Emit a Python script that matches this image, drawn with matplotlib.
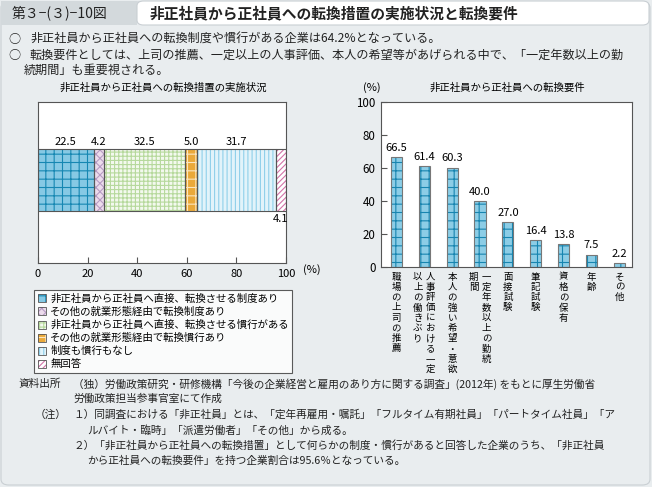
import matplotlib
matplotlib.use("Agg")
import matplotlib.pyplot as plt
from matplotlib.patches import Rectangle, FancyBboxPatch, Patch

plt.rcParams['font.family'] = ['Noto Sans CJK JP', 'DejaVu Sans']
plt.rcParams['hatch.linewidth'] = 0.8

# ---------------- data ----------------
left_labels = ["非正社員から正社員へ直接、転換させる制度あり",
               "その他の就業形態経由で転換制度あり",
               "非正社員から正社員へ直接、転換させる慣行がある",
               "その他の就業形態経由で転換慣行あり",
               "制度も慣行もなし",
               "無回答"]
left_values = [22.5, 4.2, 32.5, 5.0, 31.7, 4.1]
left_xticks = [0, 20, 40, 60, 80, 100]

right_categories = [["職場の上司の推薦"],
                    ["人事評価における一定", "以上の働きぶり"],
                    ["本人の強い希望・意欲"],
                    ["一定年数以上の勤続", "期間"],
                    ["面接試験"],
                    ["筆記試験"],
                    ["資格の保有"],
                    ["年齢"],
                    ["その他"]]
right_values = [66.5, 61.4, 60.3, 40.0, 27.0, 16.4, 13.8, 7.5, 2.2]
right_yticks = [0, 20, 40, 60, 80, 100]

# styles
seg_face = ['#86c9e4', '#ecdcec', '#f3f9ee', '#eaa93a', '#e2f3fa', '#ffffff']
seg_hatch = ['++', 'xxxx', '++++', '++', '||||', '//////']
seg_hcol = ['#1687b2', '#b79cc4', '#b6d99c', '#fbe6c0', '#8fd0ea', '#d373a8']

BG = '#e9edef'
W, H = 652, 487
fig = plt.figure(figsize=(W / 100, H / 100), dpi=100)
fig.patch.set_facecolor(BG)


def fx(x):
    return x / W


def fy(y):
    return 1 - y / H


# frame and header
fig.patches.append(FancyBboxPatch((fx(1), fy(485)), fx(649), 483 / H,
                                  boxstyle="round,pad=0,rounding_size=0.012",
                                  transform=fig.transFigure, facecolor=BG,
                                  edgecolor='#c9cfd3', lw=0.8, zorder=-5))
fig.patches.append(Rectangle((fx(1), fy(25)), fx(136), 24 / H, transform=fig.transFigure,
                             facecolor='#d3d9dc', edgecolor='none', zorder=-4))
fig.patches.append(FancyBboxPatch((fx(137), fy(25)), fx(512), 24 / H,
                                  boxstyle="round,pad=0,rounding_size=0.01",
                                  transform=fig.transFigure, facecolor='white',
                                  edgecolor='#c9cfd3', lw=0.8, zorder=-4))
fig.text(fx(12), fy(13), "第３−(３)−10図", fontsize=10, va='center', ha='left', color='#222222')
fig.text(fx(150), fy(13), "非正社員から正社員への転換措置の実施状況と転換要件", fontsize=10.6,
         va='center', ha='left', fontweight='bold', color='#222222')

bul = dict(fontsize=8.7, va='center', ha='left', color='#222222')
fig.text(fx(8), fy(39), "○", **bul)
fig.text(fx(30), fy(39), "非正社員から正社員への転換制度や慣行がある企業は64.2%となっている。", **bul)
fig.text(fx(8), fy(55), "○", **bul)
fig.text(fx(30), fy(55), "転換要件としては、上司の推薦、一定以上の人事評価、本人の希望等があげられる中で、「一定年数以上の勤", **bul)
fig.text(fx(24), fy(70), "続期間」も重要視される。", **bul)

# ---------------- left chart ----------------
axL = fig.add_axes([fx(38), fy(263), fx(248), 161 / H])
axL.set_facecolor('white')
axL.set_xlim(0, 100)
axL.set_ylim(0, 1)
left = 0
for v, fc, h, hc in zip(left_values, seg_face, seg_hatch, seg_hcol):
    axL.barh(0.516, v, left=left, height=0.385, color=fc, hatch=h, edgecolor=hc, lw=0, zorder=2)
    axL.barh(0.516, v, left=left, height=0.385, fill=False, edgecolor='#555555', lw=0.8, zorder=3)
    left += v
left = 0
for i, v in enumerate(left_values):
    c = left + v / 2
    if i == len(left_values) - 1:
        axL.text(c, 0.516 - 0.385 / 2 - 0.02, f"{v:.1f}", ha='center', va='top', fontsize=8)
    else:
        axL.text(c, 0.516 + 0.385 / 2 + 0.015, f"{v:.1f}", ha='center', va='bottom', fontsize=8)
    left += v
axL.set_xticks(left_xticks)
axL.set_xticklabels([str(t) for t in left_xticks], fontsize=8)
axL.set_yticks([])
axL.tick_params(axis='x', direction='in', length=4, color='#555555', pad=4)
for s in axL.spines.values():
    s.set_color('#555555')
    s.set_linewidth(0.8)
fig.text(fx(303), fy(270), "(%)", fontsize=8, va='center', ha='left')
fig.text(fx(163), fy(88), "非正社員から正社員への転換措置の実施状況", fontsize=7.5,
         ha='center', va='center')

handles = []
for fc, h, hc in zip(seg_face, seg_hatch, seg_hcol):
    handles.append((Patch(facecolor=fc, hatch=h, edgecolor=hc, lw=0),
                    Patch(facecolor='none', edgecolor='#555555', lw=0.6)))
leg = fig.legend(handles, left_labels, loc='upper left',
                 bbox_to_anchor=(fx(34), fy(290)), fontsize=7.5, frameon=True,
                 fancybox=False, edgecolor='#333333', handlelength=0.8, handleheight=0.8,
                 handletextpad=0.4, labelspacing=0.28, borderpad=0.35, borderaxespad=0)
leg.get_frame().set_linewidth(0.8)

# ---------------- right chart ----------------
axR = fig.add_axes([fx(381), fy(267), fx(251), 165 / H])
axR.set_facecolor('white')
xs = list(range(len(right_values)))
axR.bar(xs, right_values, width=0.4, color='#8ccde6', hatch='++', edgecolor='#1785b0', lw=0, zorder=2)
axR.bar(xs, right_values, width=0.4, fill=False, edgecolor='#777777', lw=0.8, zorder=3)
for x, v in zip(xs, right_values):
    axR.text(x, v + 2.5, f"{v:.1f}", ha='center', va='bottom', fontsize=8)
axR.set_xlim(-0.55, 8.45)
axR.set_ylim(0, 100)
axR.set_yticks(right_yticks)
axR.set_yticklabels([str(t) for t in right_yticks], fontsize=8.3)
axR.set_xticks([])
axR.tick_params(axis='y', direction='in', length=4, color='#555555', pad=4)
for s in axR.spines.values():
    s.set_color('#555555')
    s.set_linewidth(0.8)
fig.text(fx(372), fy(88), "(%)", fontsize=8, ha='center', va='center')
fig.text(fx(507), fy(88), "非正社員から正社員への転換要件", fontsize=7.5, ha='center', va='center')

# vertical category labels (columns right-to-left)
col_gap = 0.46
for x, cols in zip(xs, right_categories):
    n = len(cols)
    for j, col in enumerate(cols):
        cx = x + (n - 1) * col_gap / 2 - j * col_gap
        for k, ch in enumerate(col):
            axR.annotate(ch, xy=(cx, 0), xycoords=('data', 'axes fraction'),
                         xytext=(0, -4 - k * 7.4), textcoords='offset points',
                         ha='center', va='top', fontsize=6.8, annotation_clip=False)

# ---------------- footer ----------------
ft = dict(fontsize=7.7, va='center', ha='left', color='#222222')
fig.text(fx(18), fy(384), "資料出所", **ft)
fig.text(fx(73), fy(384), "（独）労働政策研究・研修機構「今後の企業経営と雇用のあり方に関する調査」(2012年) をもとに厚生労働省", **ft)
fig.text(fx(73), fy(399), "労働政策担当参事官室にて作成", **ft)
fig.text(fx(35), fy(415), "（注）", **ft)
fig.text(fx(73), fy(415), "１）同調査における「非正社員」とは、「定年再雇用・嘱託」「フルタイム有期社員」「パートタイム社員」「ア", **ft)
fig.text(fx(87), fy(430), "ルバイト・臨時」「派遣労働者」「その他」から成る。", **ft)
fig.text(fx(73), fy(446), "２）「非正社員から正社員への転換措置」として何らかの制度・慣行があると回答した企業のうち、「非正社員", **ft)
fig.text(fx(87), fy(461), "から正社員への転換要件」を持つ企業割合は95.6％となっている。", **ft)

fig.savefig("out.png", dpi=100, facecolor=fig.get_facecolor())
